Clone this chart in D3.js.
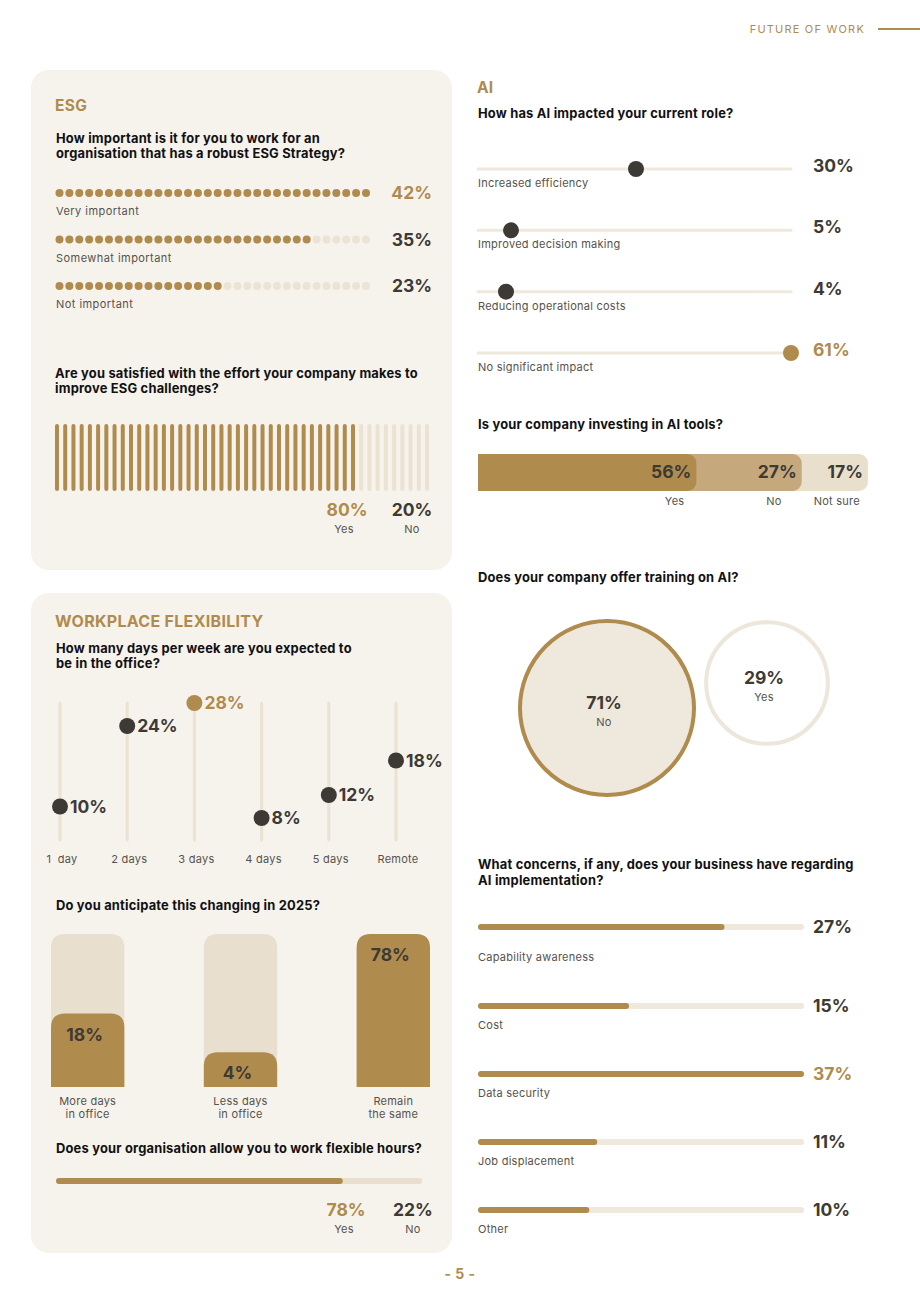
<!DOCTYPE html>
<html>
<head>
<meta charset="utf-8">
<script src="https://cdn.jsdelivr.net/npm/d3@7"></script>
<style>
  html, body { margin: 0; padding: 0; background: #ffffff; }
  svg { display: block; font-family: "Inter", "Noto Sans", sans-serif; }
</style>
</head>
<body>
<div id="chart"></div>
<script>
// ---------------- DATA ----------------
const esgImportanceLabels = ["Very important", "Somewhat important", "Not important"];
const esgImportanceValues = [42, 35, 23];

const esgSatisfiedLabels = ["Yes", "No"];
const esgSatisfiedValues = [80, 20];

const aiImpactLabels = ["Increased efficiency", "Improved decision making", "Reducing operational costs", "No significant impact"];
const aiImpactValues = [30, 5, 4, 61];

const aiInvestLabels = ["Yes", "No", "Not sure"];
const aiInvestValues = [56, 27, 17];

const aiTrainingLabels = ["No", "Yes"];
const aiTrainingValues = [71, 29];

const aiConcernLabels = ["Capability awareness", "Cost", "Data security", "Job displacement", "Other"];
const aiConcernValues = [27, 15, 37, 11, 10];

const officeDaysLabels = ["1  day", "2 days", "3 days", "4 days", "5 days", "Remote"];
const officeDaysValues = [10, 24, 28, 8, 12, 18];

const changeLabels = [["More days", "in office"], ["Less days", "in office"], ["Remain", "the same"]];
const changeValues = [18, 4, 78];

const flexLabels = ["Yes", "No"];
const flexValues = [78, 22];

// ---------------- STYLE ----------------
const GOLD = "#b08b4e";
const GOLD_MID = "#c6a87d";
const LIGHT = "#e9dfcd";
const TRACK = "#efe8dc";
const CARD = "#f6f3ed";
const DARK = "#3d3a36";
const GRAY = "#55524d";
const BLACK = "#111111";

const W = 920, H = 1302;
const svg = d3.select("#chart").append("svg").attr("width", W).attr("height", H);

function txt(g, x, y, s, o = {}) {
  return g.append("text")
    .attr("x", x).attr("y", y)
    .attr("font-size", o.size || 11)
    .attr("font-weight", o.weight || 400)
    .attr("fill", o.fill || GRAY)
    .attr("text-anchor", o.anchor || "start")
    .attr("letter-spacing", o.ls != null ? o.ls : 0.25)
    .text(s);
}
const q = (g, x, y, s) => txt(g, x, y, s, { size: 12.9, weight: 700, fill: BLACK, ls: 0.2 });
const val = (g, x, y, s, fill, anchor) => txt(g, x, y, s, { size: 17.5, weight: 700, fill: fill, anchor: anchor || "start", ls: 0 });

function topRoundedRect(x, y, w, h, r) {
  r = Math.min(r, h, w / 2);
  return `M${x},${y + h} L${x},${y + r} Q${x},${y} ${x + r},${y} L${x + w - r},${y} Q${x + w},${y} ${x + w},${y + r} L${x + w},${y + h} Z`;
}

// ---------------- HEADER / FOOTER ----------------
txt(svg, 865, 33, "FUTURE OF WORK", { size: 11, fill: GOLD, anchor: "end", ls: 1.2 });
svg.append("line").attr("x1", 878).attr("x2", 920).attr("y1", 29).attr("y2", 29).attr("stroke", GOLD).attr("stroke-width", 2);
txt(svg, 460, 1279, "- 5 -", { size: 14, weight: 700, fill: GOLD, anchor: "middle", ls: 0.5 });

// ---------------- CARDS ----------------
svg.append("rect").attr("x", 31).attr("y", 70).attr("width", 421).attr("height", 500).attr("rx", 18).attr("fill", CARD);
svg.append("rect").attr("x", 31).attr("y", 593).attr("width", 421).attr("height", 660).attr("rx", 18).attr("fill", CARD);

// ---------------- ESG ----------------
const esg = svg.append("g");
txt(esg, 55, 111, "ESG", { size: 15.5, weight: 700, fill: GOLD, ls: 0.3 });
q(esg, 56, 143, "How important is it for you to work for an");
q(esg, 56, 158, "organisation that has a robust ESG Strategy?");

const NDOTS = 32;
const dotX = d3.scaleLinear().domain([0, NDOTS - 1]).range([59.5, 366]);
const rowY = d3.scalePoint().domain(esgImportanceLabels).range([193, 286]);
const esgMax = d3.max(esgImportanceValues);
esgImportanceLabels.forEach((lab, i) => {
  const v = esgImportanceValues[i];
  const filled = Math.floor(v / esgMax * NDOTS);
  const y = rowY(lab);
  esg.append("g").selectAll("circle").data(d3.range(NDOTS)).join("circle")
    .attr("cx", d => dotX(d)).attr("cy", y).attr("r", 4)
    .attr("fill", d => d < filled ? GOLD : "#ebe3d4");
  txt(esg, 56, y + 22, lab, { size: 11, ls: 0.45 });
  val(esg, 432, y + 6, v + "%", v === esgMax ? GOLD : DARK, "end");
});

q(esg, 55, 378, "Are you satisfied with the effort your company makes to");
q(esg, 55, 393, "improve ESG challenges?");
const NBARS = 46;
const barX = d3.scaleLinear().domain([0, NBARS - 1]).range([57, 427]);
const yesBars = Math.ceil(esgSatisfiedValues[0] / 100 * NBARS);
esg.append("g").selectAll("line").data(d3.range(NBARS)).join("line")
  .attr("x1", d => barX(d)).attr("x2", d => barX(d))
  .attr("y1", 426).attr("y2", 489)
  .attr("stroke", d => d < yesBars ? GOLD : "#ebe2d2")
  .attr("stroke-width", 4).attr("stroke-linecap", "round");
const satX = [347, 412];
esgSatisfiedLabels.forEach((lab, i) => {
  val(esg, satX[i], 516, esgSatisfiedValues[i] + "%", i === 0 ? GOLD : DARK, "middle");
  txt(esg, satX[i] - (i === 0 ? 3 : 0), 533, lab, { size: 11, anchor: "middle" });
});

// ---------------- AI ----------------
const ai = svg.append("g");
txt(ai, 477, 93, "AI", { size: 15.5, weight: 700, fill: GOLD, ls: 0.3 });
q(ai, 478, 118, "How has AI impacted your current role?");

const impX = d3.scaleLinear().domain([0, d3.max(aiImpactValues)]).range([486, 791]);
const impY = d3.scalePoint().domain(aiImpactLabels).range([169, 353]);
const impMax = d3.max(aiImpactValues);
aiImpactLabels.forEach((lab, i) => {
  const v = aiImpactValues[i], y = impY(lab);
  ai.append("line").attr("x1", 478).attr("x2", 791).attr("y1", y).attr("y2", y)
    .attr("stroke", TRACK).attr("stroke-width", 3).attr("stroke-linecap", "round");
  ai.append("circle").attr("cx", impX(v)).attr("cy", y).attr("r", 8).attr("fill", v === impMax ? GOLD : DARK);
  txt(ai, 478, y + 18, lab, { size: 11 });
  val(ai, 813, y + 3, v + "%", v === impMax ? GOLD : DARK);
});

// Investing bar
q(ai, 478, 429, "Is your company investing in AI tools?");
const invX = d3.scaleLinear().domain([0, 100]).range([478, 868]);
const cum = d3.cumsum(aiInvestValues);
const invColors = [GOLD, GOLD_MID, LIGHT];
svg.append("defs").append("clipPath").attr("id", "invClip")
  .append("rect").attr("x", 478).attr("y", 440).attr("width", 400).attr("height", 60);
const invG = ai.append("g").attr("clip-path", "url(#invClip)");
const order = d3.range(aiInvestValues.length).reverse();
order.forEach(i => {
  invG.append("rect").attr("x", 466).attr("y", 454)
    .attr("width", invX(cum[i]) - 466).attr("height", 37).attr("rx", 9)
    .attr("fill", invColors[i]);
});
const invLabOffset = [12, 20, 8];
aiInvestLabels.forEach((lab, i) => {
  val(ai, invX(cum[i]) - 5, 478, aiInvestValues[i] + "%", DARK, "end");
  txt(ai, invX(cum[i]) - invLabOffset[i], 505, lab, { size: 11, anchor: "end" });
});

// Training circles
q(ai, 478, 582, "Does your company offer training on AI?");
const rScale = d3.scalePow().exponent(0.4).domain([0, d3.max(aiTrainingValues)]).range([0, 87]);
const circPos = [[607, 708], [767, 683]];
aiTrainingLabels.forEach((lab, i) => {
  const v = aiTrainingValues[i];
  const [cx, cy] = circPos[i];
  ai.append("circle").attr("cx", cx).attr("cy", cy).attr("r", rScale(v))
    .attr("fill", i === 0 ? "#efe8dc" : "#ffffff")
    .attr("stroke", i === 0 ? GOLD : "#ede6da").attr("stroke-width", 4);
  val(ai, cx - 3, cy + 1, v + "%", DARK, "middle");
  txt(ai, cx - 3, cy + 18, lab, { size: 11, anchor: "middle" });
});

// Concerns
q(ai, 478, 869, "What concerns, if any, does your business have regarding");
q(ai, 478, 885, "AI implementation?");
const conX = d3.scaleLinear().domain([-4, d3.max(aiConcernValues)]).range([478, 804]);
const conLabY = d3.scalePoint().domain(aiConcernLabels).range([957, 1229]);
const conMax = d3.max(aiConcernValues);
aiConcernLabels.forEach((lab, i) => {
  const v = aiConcernValues[i];
  const ly = conLabY(lab);
  const ty = ly - (i === 0 ? 30 : 19);
  ai.append("line").attr("x1", 481).attr("x2", 801).attr("y1", ty).attr("y2", ty)
    .attr("stroke", TRACK).attr("stroke-width", 6).attr("stroke-linecap", "round");
  ai.append("line").attr("x1", 481).attr("x2", conX(v) - 3).attr("y1", ty).attr("y2", ty)
    .attr("stroke", GOLD).attr("stroke-width", 6).attr("stroke-linecap", "round");
  txt(ai, 478, ly + 4, lab, { size: 11 });
  val(ai, 813, ty + 6, v + "%", v === conMax ? GOLD : DARK);
});

// ---------------- WORKPLACE FLEXIBILITY ----------------
const wf = svg.append("g");
txt(wf, 55, 627, "WORKPLACE FLEXIBILITY", { size: 16, weight: 700, fill: GOLD, ls: 0.3 });
q(wf, 56, 653, "How many days per week are you expected to");
q(wf, 56, 668, "be in the office?");

const dayX = d3.scalePoint().domain(officeDaysLabels).range([60, 396]);
const dayY = d3.scaleLinear().domain([0, d3.max(officeDaysValues)]).range([864, 703]);
const dayMax = d3.max(officeDaysValues);
officeDaysLabels.forEach((lab, i) => {
  const v = officeDaysValues[i], x = dayX(lab);
  wf.append("line").attr("x1", x).attr("x2", x).attr("y1", 703).attr("y2", 840)
    .attr("stroke", "#ebe2d2").attr("stroke-width", 3).attr("stroke-linecap", "round");
  wf.append("circle").attr("cx", x).attr("cy", dayY(v)).attr("r", 8).attr("fill", v === dayMax ? GOLD : DARK);
  val(wf, x + 10, dayY(v) + 6, v + "%", v === dayMax ? GOLD : DARK);
  txt(wf, x + 2, 863, lab, { size: 11, anchor: "middle" }).attr("xml:space", "preserve").style("white-space", "pre");
});

// Anticipate change
q(wf, 56, 910, "Do you anticipate this changing in 2025?");
const chX = d3.scaleBand().domain(changeLabels.map(d => d.join(" "))).range([51, 430]).paddingInner(0.52).paddingOuter(0);
const chH = d3.scaleSqrt().domain([0, d3.max(changeValues)]).range([0, 153]);
const chBottom = 1087;
changeLabels.forEach((lab, i) => {
  const x0 = chX(lab.join(" ")), bw = chX.bandwidth(), cx = x0 + bw / 2;
  const v = changeValues[i];
  wf.append("path").attr("d", topRoundedRect(x0, chBottom - 153, bw, 153, 14)).attr("fill", "#e8dfcf");
  const h = chH(v);
  wf.append("path").attr("d", topRoundedRect(x0, chBottom - h, bw, h, 14)).attr("fill", GOLD);
  val(wf, cx - 3, chBottom - h + 27, v + "%", DARK, "middle");
  txt(wf, cx, 1105, lab[0], { size: 11, anchor: "middle" });
  txt(wf, cx, 1118, lab[1], { size: 11, anchor: "middle" });
});

// Flexible hours
q(wf, 56, 1153, "Does your organisation allow you to work flexible hours?");
const flX = d3.scaleLinear().domain([0, 100]).range([59, 419]);
wf.append("line").attr("x1", 59).attr("x2", 419).attr("y1", 1181).attr("y2", 1181)
  .attr("stroke", "#e8dfcf").attr("stroke-width", 6).attr("stroke-linecap", "round");
wf.append("line").attr("x1", 59).attr("x2", flX(flexValues[0])).attr("y1", 1181).attr("y2", 1181)
  .attr("stroke", GOLD).attr("stroke-width", 6).attr("stroke-linecap", "round");
const flPos = [346, 413];
flexLabels.forEach((lab, i) => {
  val(wf, flPos[i], 1216, flexValues[i] + "%", i === 0 ? GOLD : DARK, "middle");
  txt(wf, flPos[i] - (i === 0 ? 2 : 0), 1233, lab, { size: 11, anchor: "middle" });
});
</script>
</body>
</html>
